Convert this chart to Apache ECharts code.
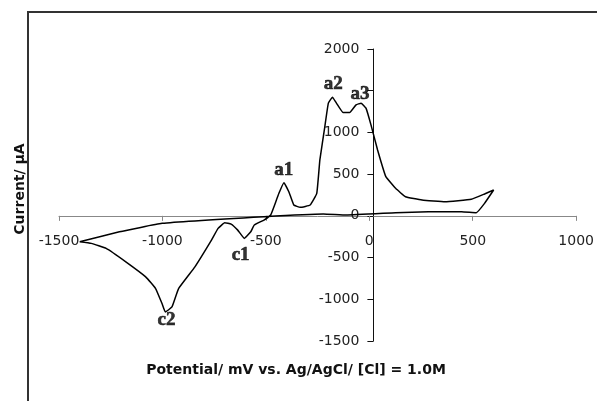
<!DOCTYPE html>
<html>
<head>
<meta charset="utf-8">
<script src="https://cdn.jsdelivr.net/npm/echarts@6/dist/echarts.min.js"></script>
<style>html,body{margin:0;padding:0;background:#fff;}#c{width:597px;height:401px;}</style>
</head>
<body>
<div id="c"></div>
<script>
// Cyclic voltammogram (potential in mV, current in µA), traced as one continuous loop
const potential = [-1400,-1344,-1272,-1177,-1081,-1033,-1002,-986,-954,-922,-843,-763,-731,-699,-668,-636,-604,-573,-556,-509,-477,-461,-437,-413,-389,-365,-334,-286,-254,-239,-215,-198,-178,-159,-127,-95,-64,-40,-16,8,40,80,127,175,255,366,493,557,601,557,517,446,286,127,-111,-222,-509,-1002,-1208,-1400];
const current   = [-310,-330,-390,-551,-731,-871,-1051,-1152,-1092,-871,-611,-291,-150,-83,-98,-171,-270,-191,-110,-50,10,109,270,398,289,130,102,130,270,670,1070,1351,1423,1351,1238,1238,1331,1351,1291,1091,790,470,330,229,190,169,198,262,310,150,37,49,49,37,10,22,-11,-90,-191,-310];

const peakNames = ['a1','a2','a3','c1','c2'];
const peakLabelX = [-413,-174,-45,-622,-980];
const peakLabelY = [550,1582,1462,-471,-1249];

const xTicks = [-1500,-1000,-500,0,500,1000];
const yTicks = [-1500,-1000,-500,0,500,1000,1500,2000];
const yHiddenTicks = [1500];

const xTitle = 'Potential/ mV vs. Ag/AgCl/ [Cl] = 1.0M';
const yTitle = 'Current/ μA';

const G = {left:59, right:14, top:49, bottom:60};
const W = 597 - G.left - G.right, H = 401 - G.top - G.bottom;
const xMin = xTicks[0], xMax = xTicks[xTicks.length-1];
const yMin = yTicks[0], yMax = yTicks[yTicks.length-1];
// shift axes so they cross at the origin (axes drawn through zero)
const yAxisOffset = -W * (0 - xMin) / (xMax - xMin);
const xAxisOffset = -H * (0 - yMin) / (yMax - yMin);

const chart = echarts.init(document.getElementById('c'), null, {renderer:'canvas'});
const curve = potential.map((v,i)=>[v,current[i]]);
const peaks = peakNames.map((n,i)=>({name:n, value:[peakLabelX[i], peakLabelY[i]]}));
const tickFont = {fontFamily:'DejaVu Sans', fontSize:14, color:'#222'};

chart.setOption({
  animation:false,
  backgroundColor:'#fff',
  grid:{left:G.left, right:G.right, top:G.top, bottom:G.bottom, containLabel:false},
  xAxis:{
    type:'value', min:xMin, max:xMax, interval:500, position:'bottom', offset:xAxisOffset,
    axisLine:{onZero:false, lineStyle:{color:'#888', width:1}},
    axisTick:{show:true, length:5, lineStyle:{color:'#888'}},
    axisLabel:Object.assign({margin:19, formatter:v=>String(v)}, tickFont),
    splitLine:{show:false}
  },
  yAxis:{
    type:'value', min:yMin, max:yMax, interval:500, position:'left', offset:yAxisOffset,
    axisLine:{show:true, onZero:false, lineStyle:{color:'#111', width:1}},
    axisTick:{show:true, length:6, lineStyle:{color:'#111'}},
    axisLabel:Object.assign({margin:14, formatter:v=> yHiddenTicks.includes(v)?'':String(v)}, tickFont),
    splitLine:{show:false}
  },
  graphic:[
    {type:'rect', shape:{x:28, y:12, width:800, height:600}, style:{fill:'none', stroke:'#333', lineWidth:2}, z:100},
    {type:'text', x:296, y:370, style:{text:xTitle, font:'bold 14px "DejaVu Sans"', fill:'#111', textAlign:'center', textVerticalAlign:'middle'}},
    {type:'text', x:20, y:189, rotation:Math.PI/2, style:{text:yTitle, font:'bold 14px "DejaVu Sans"', fill:'#111', textAlign:'center', textVerticalAlign:'middle'}}
  ],
  series:[
    {type:'line', data:curve, showSymbol:false, symbol:'none', smooth:0.1,
     lineStyle:{color:'#000', width:1.5}, z:3},
    {type:'scatter', data:peaks, symbolSize:0, z:4,
     label:{show:true, position:'inside', formatter:p=>p.name,
            fontFamily:'Liberation Serif', fontWeight:'bold', fontSize:19, color:'#000',
            textBorderColor:'#000', textBorderWidth:0.6}}
  ]
});
</script>
</body>
</html>
